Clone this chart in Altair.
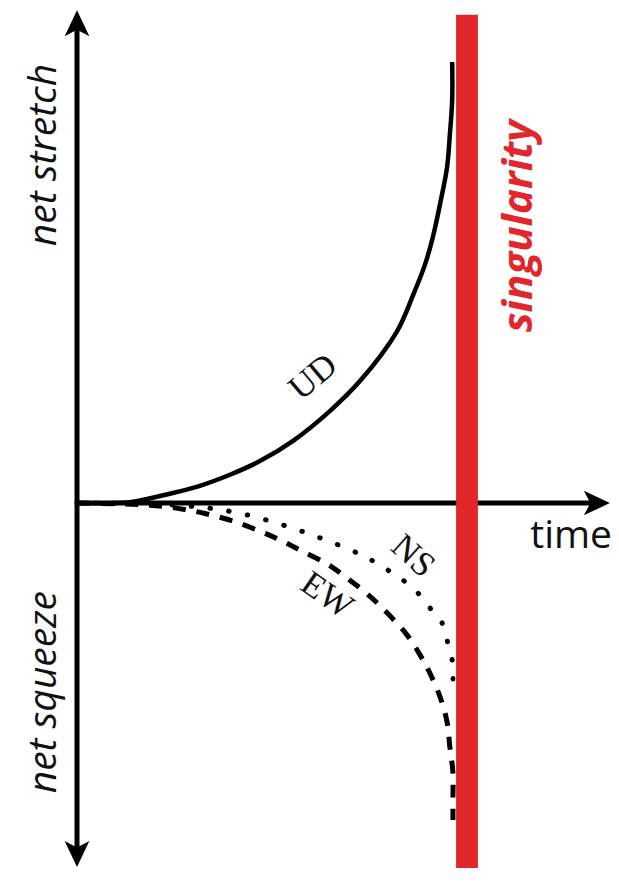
import altair as alt
import pandas as pd

# Chart units: time t (origin = 0, singularity at t = 1), net stretch s (UD top = 1)
ud_t = [0.000, 0.136, 0.213, 0.315, 0.392, 0.469, 0.554, 0.649, 0.726, 0.821, 0.862, 0.892, 0.913, 0.933, 0.949, 0.956, 0.962, 0.962]
ud_s = [0.000, 0.002, 0.016, 0.039, 0.064, 0.095, 0.141, 0.209, 0.277, 0.390, 0.472, 0.540, 0.605, 0.687, 0.762, 0.835, 0.914, 1.000]

ns_t = [0.000, 0.187, 0.333, 0.436, 0.528, 0.623, 0.708, 0.754, 0.797, 0.836, 0.874, 0.905, 0.936, 0.951, 0.962, 0.964]
ns_s = [0.000, -0.002, -0.011, -0.027, -0.050, -0.079, -0.109, -0.129, -0.152, -0.175, -0.204, -0.238, -0.272, -0.318, -0.356, -0.413]

ew_t = [0.000, 0.187, 0.272, 0.333, 0.400, 0.469, 0.521, 0.572, 0.641, 0.692, 0.744, 0.795, 0.846, 0.880, 0.905, 0.931, 0.949, 0.956, 0.964, 0.964, 0.964]
ew_s = [0.000, -0.005, -0.014, -0.025, -0.041, -0.064, -0.084, -0.107, -0.138, -0.170, -0.206, -0.249, -0.299, -0.345, -0.386, -0.440, -0.497, -0.553, -0.612, -0.667, -0.719]

axis_labels = ["net stretch", "net squeeze"]
axis_label_t = [-0.085, -0.085]
axis_label_s = [0.789, -0.429]

time_label = ["time"]
time_t = [1.267]
time_s = [-0.075]

sing_label = ["singularity"]
sing_t = [1.133]
sing_s = [0.628]

curve_labels = ["UD", "NS", "EW"]
curve_label_t = [0.605, 0.862, 0.641]
curve_label_s = [0.286, -0.120, -0.209]
curve_label_angle = [320, 42, 35]

W, H = 603, 860
xs = alt.Scale(domain=[-0.176923, 1.369231], nice=False, zero=False)
ys = alt.Scale(domain=[-0.827664, 1.122449], nice=False, zero=False)


def X(f="t"):
    return alt.X(f"{f}:Q", scale=xs, axis=None)


def Y(f="s"):
    return alt.Y(f"{f}:Q", scale=ys, axis=None)


def curve_df(t, s):
    return pd.DataFrame({"t": t, "s": s, "i": list(range(len(t)))})


# axes
vaxis = alt.Chart(pd.DataFrame({"t": [0.0], "s": [1.095], "s2": [-0.787]})).mark_rule(
    color="black", strokeWidth=5
).encode(x=X(), y=Y(), y2=alt.Y2("s2:Q"))
haxis = alt.Chart(pd.DataFrame({"t": [0.0], "t2": [1.341], "s": [0.0]})).mark_rule(
    color="black", strokeWidth=5
).encode(x=X(), x2=alt.X2("t2:Q"), y=Y())

arrow_path = "M0,-1L0.95,1L0,0.5L-0.95,1Z"
arrows = alt.Chart(pd.DataFrame({
    "t": [0.0, 0.0, 1.333],
    "s": [1.088, -0.796, 0.0],
    "a": [0, 180, 90],
})).mark_point(shape=arrow_path, filled=True, size=676, color="black", opacity=1, strokeWidth=0).encode(
    x=X(), y=Y(), angle=alt.Angle("a:Q", scale=None)
)

ud = alt.Chart(curve_df(ud_t, ud_s)).mark_line(
    color="black", strokeWidth=4.5, interpolate="catmull-rom"
).encode(x=X(), y=Y(), order="i:Q")
ns = alt.Chart(curve_df(ns_t, ns_s)).mark_line(
    color="black", strokeWidth=5, strokeDash=[0.5, 18.5], strokeCap="round", interpolate="catmull-rom"
).encode(x=X(), y=Y(), order="i:Q")
ew = alt.Chart(curve_df(ew_t, ew_s)).mark_line(
    color="black", strokeWidth=5, strokeDash=[13, 11], interpolate="catmull-rom"
).encode(x=X(), y=Y(), order="i:Q")

bar = alt.Chart(pd.DataFrame({"t": [0.972], "t2": [1.028], "s": [1.107], "s2": [-0.8277]})).mark_rect(
    color="#e2262b"
).encode(x=X(), x2=alt.X2("t2:Q"), y=Y(), y2=alt.Y2("s2:Q"))

ax_text = alt.Chart(pd.DataFrame({"t": axis_label_t, "s": axis_label_s, "label": axis_labels})).mark_text(
    font="Open Sans", fontStyle="italic", fontSize=39, angle=270, align="center", baseline="middle", color="#111111"
).encode(x=X(), y=Y(), text="label:N")

time_text = alt.Chart(pd.DataFrame({"t": time_t, "s": time_s, "label": time_label})).mark_text(
    font="Open Sans", fontSize=39, align="center", baseline="middle", color="#111111"
).encode(x=X(), y=Y(), text="label:N")

sing_text = alt.Chart(pd.DataFrame({"t": sing_t, "s": sing_s, "label": sing_label})).mark_text(
    font="Open Sans", fontStyle="italic", fontWeight="bold", fontSize=42, angle=270,
    align="center", baseline="middle", color="#e2262b"
).encode(x=X(), y=Y(), text="label:N")

curve_text = alt.Chart(pd.DataFrame({
    "t": curve_label_t, "s": curve_label_s, "label": curve_labels, "a": curve_label_angle
})).mark_text(
    font="Liberation Serif", fontSize=35, align="center", baseline="middle", color="#111111"
).encode(x=X(), y=Y(), text="label:N", angle=alt.Angle("a:Q", scale=None))

chart = alt.layer(
    vaxis, haxis, ud, ns, ew, bar, arrows, ax_text, time_text, sing_text, curve_text
).properties(
    width=W, height=H, padding=0, autosize=alt.AutoSizeParams(type="none"), background="white"
).configure_view(stroke=None)

chart.save("out.html", embed_options={"renderer": "svg", "actions": False})
